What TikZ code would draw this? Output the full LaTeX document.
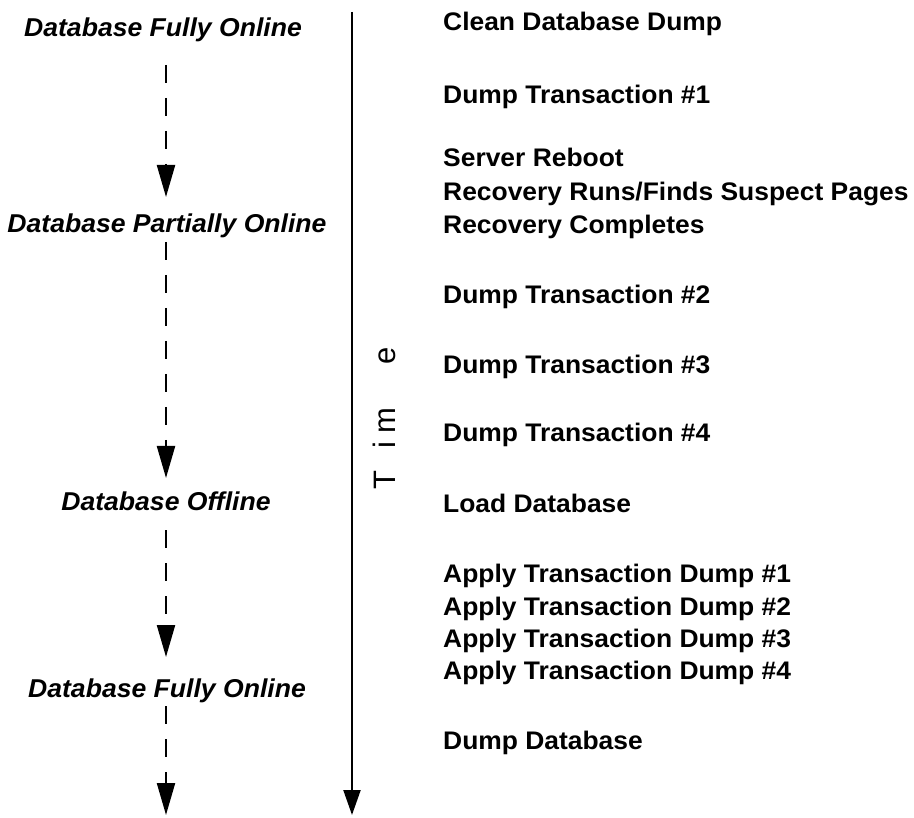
\documentclass[tikz,border=0pt]{standalone}
\usepackage{fontspec}
\setmainfont{Liberation Sans}
\newfontfamily\evtfont[FakeStretch=1.04]{Liberation Sans}
\newfontfamily\statefont[FakeStretch=1.03]{Liberation Sans}
\usetikzlibrary{arrows.meta}
\begin{document}
\begin{tikzpicture}[x=1pt,y=-1pt,
  state/.style={font=\statefont\fontsize{25.8}{30}\selectfont\bfseries\itshape, inner sep=0pt, anchor=base},
  evt/.style={font=\evtfont\fontsize{25.4}{30}\selectfont\bfseries, inner sep=0pt, anchor=base west},
  flow/.style={line width=2.2pt, dash pattern=on 18pt off 15pt, -{Triangle[length=32pt,width=18pt]}},
  axis/.style={line width=2.2pt, -{Triangle[length=25pt,width=17pt]}}]
\useasboundingbox (0,0) rectangle (914,818);
% states
\node[state] (s1) at (163,37) {Database Fully Online};
\node[state] (s2) at (167,233) {Database Partially Online};
\node[state] (s3) at (166,511) {Database Offline};
\node[state] (s4) at (167,697) {Database Fully Online};
% flow coordinates
\coordinate (a1s) at (166,65);  \coordinate (a1e) at (166,197);
\coordinate (a2s) at (166,242); \coordinate (a2e) at (166,478);
\coordinate (a3s) at (166,530); \coordinate (a3e) at (166,657);
\coordinate (a4s) at (166,706); \coordinate (a4e) at (166,815);
\draw[flow] (a1s) -- (a1e);
\draw[flow] (a2s) -- (a2e);
\draw[flow] (a3s) -- (a3e);
\draw[flow] (a4s) -- (a4e);
% time axis
\coordinate (ts) at (352,12); \coordinate (te) at (352,815);
\draw[axis] (ts) -- (te);
\node[font=\fontsize{31}{36}\selectfont, inner sep=0pt, anchor=base west, rotate=90] (time) at (395,490)
  {T\hspace{22pt}i\hspace{8pt}m\hspace{44pt}e};
% events
\node[evt] (e1) at (443,31) {Clean Database Dump};
\node[evt] (e2) at (443,104) {Dump Transaction \#1};
\node[evt] (e3) at (443,167) {Server Reboot};
\node[evt] (e4) at (443,201) {Recovery Runs/Finds Suspect Pages};
\node[evt] (e5) at (443,234) {Recovery Completes};
\node[evt] (e6) at (443,304) {Dump Transaction \#2};
\node[evt] (e7) at (443,374) {Dump Transaction \#3};
\node[evt] (e8) at (443,442) {Dump Transaction \#4};
\node[evt] (e9) at (443,512) {Load Database};
\node[evt] (e10) at (443,582) {Apply Transaction Dump \#1};
\node[evt] (e11) at (443,615) {Apply Transaction Dump \#2};
\node[evt] (e12) at (443,647) {Apply Transaction Dump \#3};
\node[evt] (e13) at (443,679) {Apply Transaction Dump \#4};
\node[evt] (e14) at (443,749) {Dump Database};
\end{tikzpicture}
\end{document}
